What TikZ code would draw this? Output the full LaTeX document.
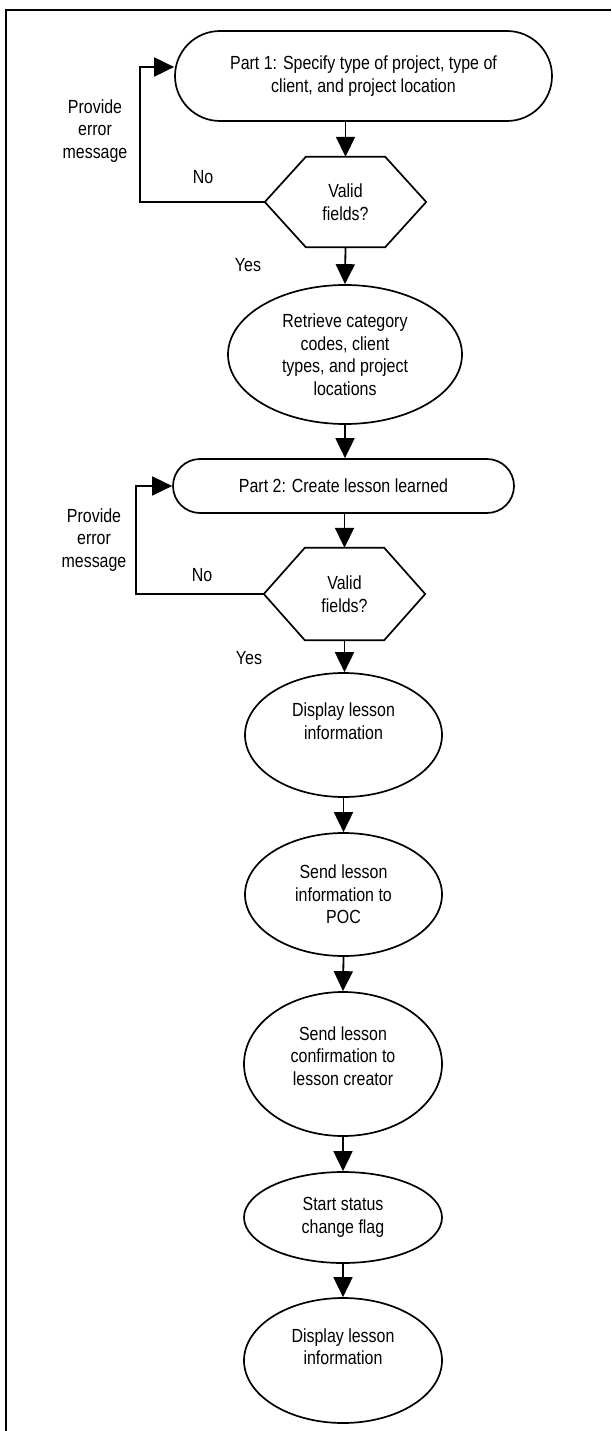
\documentclass[tikz,border=0pt]{standalone}
\usepackage{fontspec}
\setmainfont{Liberation Sans}[FakeStretch=0.84]
\usetikzlibrary{shapes.geometric,shapes.misc,arrows.meta}
\newcommand\hexpath[1]{\draw[shapeline] (#1.west) -- ([xshift=41pt]#1.north west) -- ([xshift=-41pt]#1.north east) -- (#1.east) -- ([xshift=-41pt]#1.south east) -- ([xshift=41pt]#1.south west) -- cycle;}
\begin{document}
\begin{tikzpicture}[x=1pt,y=-1pt,
  txt/.style={font=\fontsize{19}{22.5}\selectfont, align=center, inner sep=0pt},
  shapeline/.style={line width=1.7pt, line join=miter},
  term/.style={rounded rectangle, draw, shapeline, txt},
  ell/.style={ellipse, draw, shapeline, txt},
  hexbox/.style={rectangle, txt, minimum width=161pt, minimum height=90pt},
  arr/.style={-{Triangle[length=20pt,width=19pt]}, line width=1.8pt},
  frameline/.style={line width=1.8pt}]
\useasboundingbox (0,0) rectangle (611,1431);
\fill[white] (0,0) rectangle (611,1431);
% frame (left and top edges)
\coordinate (fbl) at (6,1431);
\coordinate (ftl) at (6,10);
\coordinate (ftr) at (611,10);
\draw[frameline] (fbl) -- (ftl) -- (ftr);

% nodes
\node[term, minimum width=377pt, minimum height=90pt] (p1) at (363.5,76)
  {Part 1: Specify type of project, type of\\client, and project location};
\node[hexbox] (h1) at (345.5,202) {Valid\\fields?};
\hexpath{h1}
\node[ell, minimum width=234pt, minimum height=139pt] (e1) at (345,354.5)
  {Retrieve category\\codes, client\\types, and project\\locations};
\node[term, minimum width=341pt, minimum height=54pt] (p2) at (343.5,486)
  {Part 2: Create lesson learned};
\node[hexbox, minimum height=92pt] (h2) at (344.5,594) {Valid\\fields?};
\hexpath{h2}
\node[ell, minimum width=197pt, minimum height=124pt,
  label={[txt, yshift=14pt]center:Display lesson\\information}] (e2) at (343.5,735) {};
\node[ell, minimum width=197pt, minimum height=123pt] (e3) at (343.5,894.5)
  {Send lesson\\information to\\POC};
\node[ell, minimum width=198pt, minimum height=144pt,
  label={[txt, yshift=8pt]center:Send lesson\\confirmation to\\lesson creator}] (e4) at (343,1064) {};
\node[ell, minimum width=198pt, minimum height=91pt] (e5) at (343,1217.5)
  {Start status\\change flag};
\node[ell, minimum width=198pt, minimum height=125pt,
  label={[txt, yshift=14pt]center:Display lesson\\information}] (e6) at (343,1360.5) {};

% side labels
\node[txt] (err1) at (95,131) {Provide\\error\\message};
\node[txt] (no1) at (203,177) {No};
\node[txt] (yes1) at (248,265) {Yes};
\node[txt] (err2) at (94,540) {Provide\\error\\message};
\node[txt] (no2) at (202,575) {No};
\node[txt] (yes2) at (249,658) {Yes};

% connectors
\draw[arr] (p1.south -| h1.north) -- (h1.north);
\draw[arr] (h1.south) -- (e1.north);
\draw[arr] (e1.south) -- (p2.north -| e1.south);
\draw[arr] (p2.south -| h2.north) -- (h2.north);
\draw[arr] (h2.south) -- (e2.north -| h2.south);
\draw[arr] (e2.south) -- (e3.north);
\draw[arr] (e3.south) -- (e4.north);
\draw[arr] (e4.south) -- (e5.north);
\draw[arr] (e5.south) -- (e6.north);
\draw[arr] (h1.west) -- ++(-125,0) |- ([yshift=9pt]p1.west);
\draw[arr] (h2.west) -- ++(-128,0) |- (p2.west);
\end{tikzpicture}
\end{document}
